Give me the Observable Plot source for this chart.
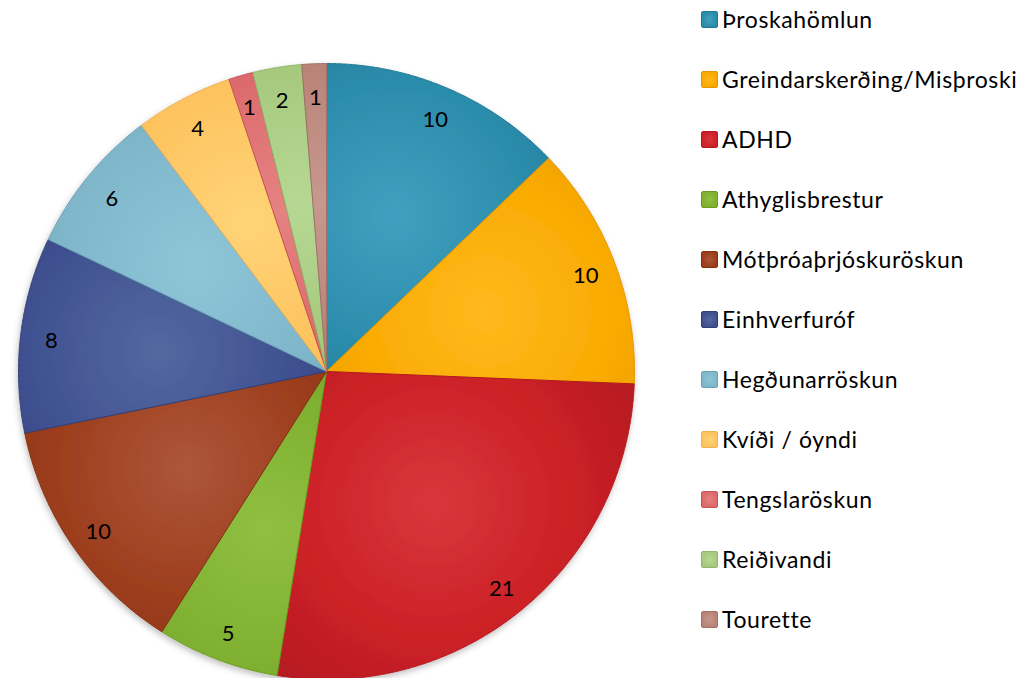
<!DOCTYPE html>
<html>
<head>
<meta charset="utf-8">
<script src="https://cdn.jsdelivr.net/npm/d3@7"></script>
<script src="https://cdn.jsdelivr.net/npm/@observablehq/plot@0.6"></script>
<style>
  html, body { margin: 0; padding: 0; background: #fff; }
  #wrap { position: relative; width: 1028px; height: 678px; overflow: hidden; font-family: "Lato", "Open Sans", sans-serif; }
  #legend { position: absolute; left: 701px; top: -11px; }
  .row { height: 60px; display: flex; align-items: center; font-size: 23px; letter-spacing: 0.6px; color: #000; white-space: nowrap; }
  .sw { width: 15px; height: 15px; border-radius: 2px; margin-right: 4px; border-width: 1px; border-style: solid; flex: none; }
</style>
</head>
<body>
<div id="wrap"></div>
<script>
const categories = ["Þroskahömlun", "Greindarskerðing/Misþroski", "ADHD", "Athyglisbrestur", "Mótþróaþrjóskuröskun", "Einhverfuróf", "Hegðunarröskun", "Kvíði / óyndi", "Tengslaröskun", "Reiðivandi", "Tourette"];
const values = [10, 10, 21, 5, 10, 8, 6, 4, 1, 2, 1];
const baseColors  = ["#2b8cab", "#f9aa00", "#cc2127", "#7fb030", "#9c3d1c", "#3f5090", "#7fb6ca", "#fdc35e", "#dc6a6c", "#a6c97e", "#b98478"];
const lightColors = ["#42a0bf", "#ffb91e", "#d8373c", "#90bf41", "#ad563a", "#5468a0", "#8ec6d8", "#ffd478", "#e68282", "#b6d894", "#c7988e"];
const edgeColors  = ["#1f7892", "#e09600", "#b21a20", "#6b9a22", "#852f10", "#2f3f78", "#6aa2b6", "#f0b050", "#c45458", "#90b468", "#a0706a"];

const total = d3.sum(values);
const slices = [];
const sliceInfo = [];
let cum = 0;
values.forEach((v, i) => {
  const a0 = 2 * Math.PI * cum / total;
  const a1 = 2 * Math.PI * (cum + v) / total;
  const mid = (a0 + a1) / 2;
  sliceInfo.push({cat: categories[i], value: v, mid, i});
  const n = Math.max(2, Math.ceil((a1 - a0) / 0.004));
  slices.push({cat: categories[i], i, x: 0, y: 0});
  for (let k = 0; k <= n; k++) {
    const a = a0 + (a1 - a0) * k / n;
    slices.push({cat: categories[i], i, x: Math.sin(a), y: Math.cos(a)});
  }
  slices.push({cat: categories[i], i, x: 0, y: 0});
  cum += v;
});

const labelR = 0.9;
const plot = Plot.plot({
  width: 690,
  height: 678,
  style: {fontFamily: "Lato, 'Open Sans', sans-serif", background: "transparent"},
  x: {domain: [-1, 1], range: [18, 634], axis: null},
  y: {domain: [-1, 1], range: [679, 63], axis: null},
  marks: [
    Plot.line(slices, {
      x: "x", y: "y", z: "cat",
      fill: {value: d => `url(#grad${d.i})`, scale: null},
      stroke: {value: d => edgeColors[d.i], scale: null},
      strokeWidth: 1,
      strokeLinejoin: "round",
      curve: "linear"
    }),
    Plot.text(sliceInfo, {
      x: d => labelR * Math.sin(d.mid),
      y: d => labelR * Math.cos(d.mid),
      text: d => String(d.value),
      fill: "#000",
      fontSize: 22,
      dy: 3
    })
  ]
});

// gradients & shadow
const xs = d3.scaleLinear([-1, 1], [18, 634]);
const ys = d3.scaleLinear([-1, 1], [679, 63]);
const svg = d3.select(plot);
const defs = svg.insert("defs", ":first-child");
const R = xs(1) - xs(0);
sliceInfo.forEach(s => {
  const g = defs.append("radialGradient")
    .attr("id", `grad${s.i}`)
    .attr("gradientUnits", "userSpaceOnUse")
    .attr("cx", xs(0.55 * Math.sin(s.mid)))
    .attr("cy", ys(0.55 * Math.cos(s.mid)))
    .attr("r", 0.8 * R);
  g.append("stop").attr("offset", "0").attr("stop-color", lightColors[s.i]);
  g.append("stop").attr("offset", "0.55").attr("stop-color", baseColors[s.i]);
  g.append("stop").attr("offset", "1").attr("stop-color", edgeColors[s.i]);
});
const f = defs.append("filter").attr("id", "shadow").attr("x", "-10%").attr("y", "-10%").attr("width", "120%").attr("height", "120%");
f.append("feDropShadow").attr("dx", -1).attr("dy", 3).attr("stdDeviation", 3).attr("flood-color", "#000").attr("flood-opacity", 0.25);
svg.select("g[aria-label=line]").attr("filter", "url(#shadow)");

const wrap = document.getElementById("wrap");
wrap.appendChild(plot);

const legend = document.createElement("div");
legend.id = "legend";
categories.forEach((c, i) => {
  const row = document.createElement("div");
  row.className = "row";
  const sw = document.createElement("span");
  sw.className = "sw";
  sw.style.background = `radial-gradient(circle, ${lightColors[i]} 0%, ${baseColors[i]} 70%)`;
  sw.style.borderColor = edgeColors[i];
  const t = document.createElement("span");
  t.textContent = c;
  row.appendChild(sw);
  row.appendChild(t);
  legend.appendChild(row);
});
wrap.appendChild(legend);
</script>
</body>
</html>
